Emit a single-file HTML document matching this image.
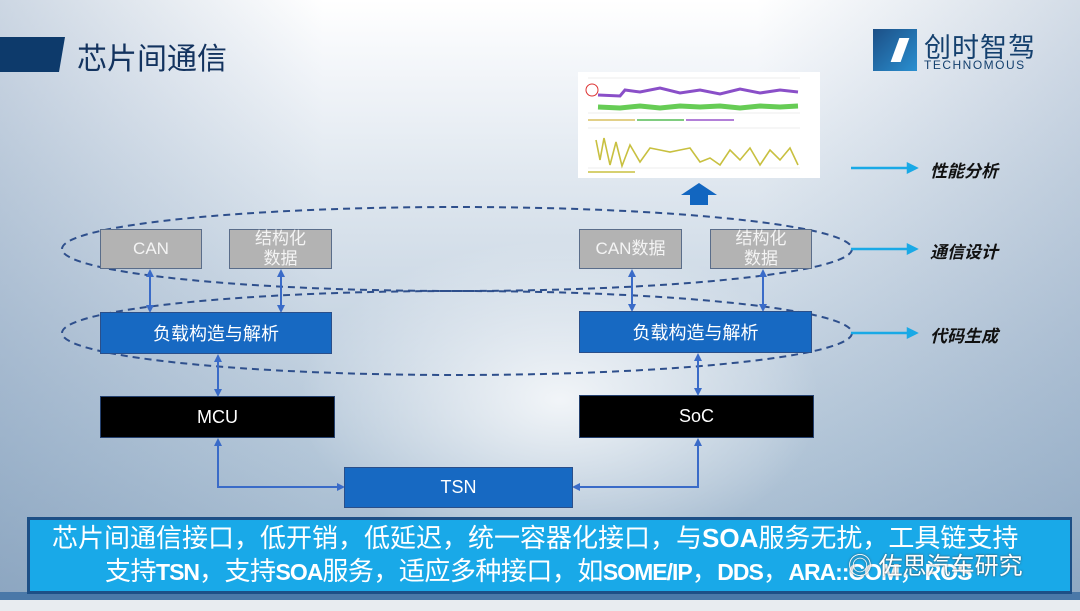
<!DOCTYPE html>
<html><head><meta charset="utf-8"><style>
html,body{margin:0;padding:0}
body{width:1080px;height:611px;overflow:hidden;position:relative;font-family:"Liberation Sans","Noto Sans CJK SC",sans-serif;
background:linear-gradient(180deg,#ffffff 0%,#f2f5f9 12%,#dfe7ef 30%,#c6d4e2 55%,#b3c6d8 75%,#9ab2c9 100%);}
.bg2{position:absolute;left:0;top:0;width:1080px;height:611px;background:radial-gradient(ellipse 260px 160px at 560px 400px,rgba(255,255,255,0.8),rgba(255,255,255,0) 100%),linear-gradient(90deg,rgba(110,140,175,0.35),rgba(255,255,255,0) 30%,rgba(255,255,255,0) 70%,rgba(110,140,175,0.3));}
.abs{position:absolute;box-sizing:border-box}
.gray{background:#b3b3b3;border:1px solid #5a6d8a;color:#f4f4f4;font-size:17px;text-align:center;line-height:20px;display:flex;align-items:center;justify-content:center}
.blue{background:#1769c2;border:1px solid #2a4f8a;color:#fff;font-size:18px;display:flex;align-items:center;justify-content:center}
.black{background:#000;border:1px solid #24406e;color:#fff;font-size:18px;display:flex;align-items:center;justify-content:center}
.lbl{font-style:italic;font-weight:bold;font-size:17px;color:#111}
.bn{position:absolute;color:#fff;font-size:26px;line-height:33px;white-space:nowrap}
.bn2 b{font-size:23px;letter-spacing:-1px}
</style></head><body>
<div class="bg2"></div>
<svg class="abs" style="left:0;top:0" width="1080" height="611">
<polygon points="0,37 65,37 59,72 0,72" fill="#0d3a6b"/>
<rect x="578" y="72" width="242" height="106" fill="#fff"/>
<g stroke="#ddd" stroke-width="0.6">
<line x1="588" y1="78" x2="800" y2="78"/><line x1="588" y1="113" x2="800" y2="113"/>
<line x1="588" y1="128" x2="800" y2="128"/><line x1="588" y1="168" x2="800" y2="168"/>
</g>
<path d="M598,95 L620,96 L625,90 L640,92 L660,88 L680,93 L700,90 L720,94 L740,89 L760,93 L780,90 L798,92" stroke="#8a4fc8" stroke-width="3" fill="none"/>
<path d="M598,107 L620,108 L640,106 L660,108 L680,106 L700,107 L720,106 L740,108 L760,106 L780,107 L798,106" stroke="#66cc55" stroke-width="5" fill="none"/>
<line x1="588" y1="120" x2="635" y2="120" stroke="#d9c060" stroke-width="1.5"/>
<line x1="637" y1="120" x2="684" y2="120" stroke="#55bb55" stroke-width="1.5"/>
<line x1="686" y1="120" x2="734" y2="120" stroke="#9955cc" stroke-width="1.5"/>
<path d="M596,140 L600,160 L604,138 L610,165 L616,142 L622,166 L630,145 L640,162 L650,148 L660,150 L670,152 L680,150 L690,148 L700,162 L710,158 L720,165 L730,150 L740,160 L750,148 L760,165 L770,150 L780,160 L790,148 L798,165" stroke="#c8c040" stroke-width="1.6" fill="none"/>
<line x1="588" y1="172" x2="635" y2="172" stroke="#c8c040" stroke-width="1.5"/>
<circle cx="592" cy="90" r="6" stroke="#d33" fill="none" stroke-width="1"/>
<polygon points="699,183 717,195 708,195 708,205 690,205 690,195 681,195" fill="#1266c0"/>
<ellipse cx="457" cy="249" rx="395" ry="42" fill="none" stroke="#2e4f8c" stroke-width="2" stroke-dasharray="7,5"/>
<ellipse cx="457" cy="333" rx="395" ry="42" fill="none" stroke="#2e4f8c" stroke-width="2" stroke-dasharray="7,5"/>
<g stroke="#19a9e6" stroke-width="2.5" fill="#19a9e6">
<line x1="851" y1="168" x2="910" y2="168"/><polygon points="916,168 908,164 908,172"/>
<line x1="851" y1="249" x2="910" y2="249"/><polygon points="916,249 908,245 908,253"/>
<line x1="851" y1="333" x2="910" y2="333"/><polygon points="916,333 908,329 908,337"/>
</g>
<defs><marker id="a" markerWidth="8" markerHeight="8" refX="6" refY="4" orient="auto-start-reverse" markerUnits="userSpaceOnUse"><path d="M0,0 L8,4 L0,8z" fill="#3a6bc8"/></marker></defs>
<g stroke="#3a6bc8" stroke-width="2" fill="none" marker-start="url(#a)" marker-end="url(#a)">
<line x1="150" y1="271" x2="150" y2="311"/>
<line x1="281" y1="271" x2="281" y2="311"/>
<line x1="632" y1="271" x2="632" y2="310"/>
<line x1="763" y1="271" x2="763" y2="310"/>
<line x1="218" y1="356" x2="218" y2="395"/>
<line x1="698" y1="355" x2="698" y2="394"/>
<polyline points="218,440 218,487 343,487"/>
<polyline points="698,440 698,487 574,487"/>
</g>
<rect x="0" y="592" width="1080" height="8" fill="#4a78a8"/>
<rect x="0" y="600" width="1080" height="11" fill="#e8ecf0"/>
<rect x="27" y="517" width="1045" height="77" fill="#1d4f86"/>
</svg>
<div class="abs" style="left:77px;top:34px;font-size:30px;color:#13335f">芯片间通信</div>
<div class="abs" style="left:873px;top:29px;width:44px;height:42px;background:linear-gradient(135deg,#1c4f86,#2a8fd0)"></div>
<div class="abs" style="left:895px;top:38px;width:10px;height:24px;background:#fff;transform:skewX(-20deg)"></div>
<div class="abs" style="left:924px;top:26px;font-size:27px;color:#14406e;letter-spacing:1px">创时智驾</div>
<div class="abs" style="left:924px;top:58px;font-size:12px;color:#14406e;letter-spacing:1.5px">TECHNOMOUS</div>
<div class="abs lbl" style="left:930px;top:157px">性能分析</div>
<div class="abs lbl" style="left:930px;top:238px">通信设计</div>
<div class="abs lbl" style="left:930px;top:322px">代码生成</div>
<div class="abs gray" style="left:100px;top:229px;width:102px;height:40px">CAN</div>
<div class="abs gray" style="left:229px;top:229px;width:103px;height:40px">结构化<br>数据</div>
<div class="abs gray" style="left:579px;top:229px;width:103px;height:40px">CAN数据</div>
<div class="abs gray" style="left:710px;top:229px;width:102px;height:40px">结构化<br>数据</div>
<div class="abs blue" style="left:100px;top:312px;width:232px;height:42px">负载构造与解析</div>
<div class="abs blue" style="left:579px;top:311px;width:233px;height:42px">负载构造与解析</div>
<div class="abs black" style="left:100px;top:396px;width:235px;height:42px">MCU</div>
<div class="abs black" style="left:579px;top:395px;width:235px;height:43px">SoC</div>
<div class="abs blue" style="left:344px;top:467px;width:229px;height:41px">TSN</div>
<div class="abs" style="left:30px;top:520px;width:1040px;height:71px;background:#19a9e8"></div>
<div class="bn" style="left:52px;top:522px">芯片间通信接口，低开销，低延迟，统一容器化接口，与<b>SOA</b>服务无扰，工具链支持</div>
<div class="bn bn2" style="left:105px;top:555px;letter-spacing:-0.5px">支持<b>TSN</b>，支持<b>SOA</b>服务，适应多种接口，如<b>SOME/IP</b>，<b>DDS</b>，<b>ARA::COM</b>，<b>ROS</b></div>
<div class="abs" style="left:848px;top:546px;font-size:24px;color:#fff;text-shadow:0 0 2px #444">◎ 佐思汽车研究</div>
</body></html>
